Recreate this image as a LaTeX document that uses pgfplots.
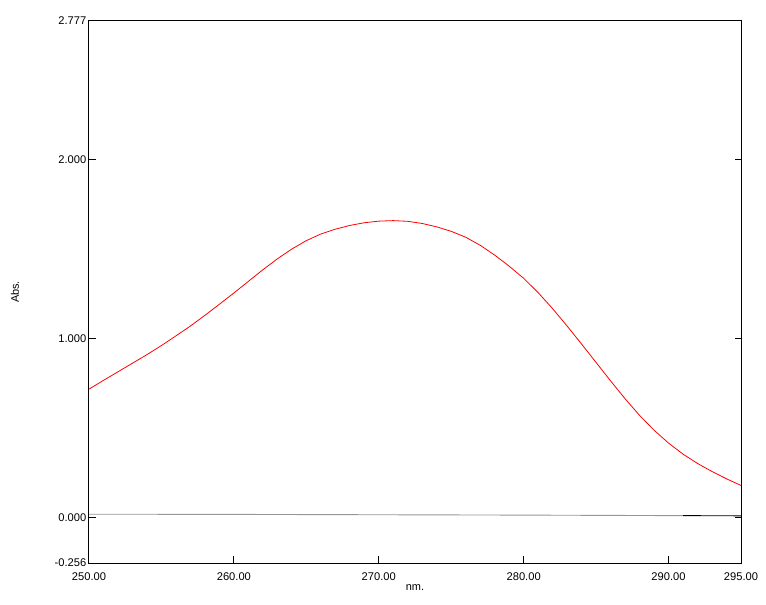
\documentclass[border=0pt]{standalone}
\usepackage{fontspec}
\setmainfont{Liberation Sans}
\usepackage{pgfplots}
\pgfplotsset{compat=1.18}
\begin{document}
\begin{tikzpicture}
\begin{axis}[
  scale only axis,
  width=652bp, height=542bp,
  xmin=250, xmax=295,
  ymin=-0.256, ymax=2.777,
  axis line style={line width=1bp},
  tick style={black, line width=1bp},
  major tick length=6.5bp,
  tick align=inside,
  xtick pos=left,
  ytick pos=both,
  xtick={250,260,270,280,290,295},
  xticklabels={250.00,260.00,270.00,280.00,290.00,295.00},
  ytick={-0.256,0,1,2,2.777},
  yticklabels={-0.256,0.000,1.000,2.000,2.777},
  every tick label/.append style={font=\fontsize{11.2}{13}\selectfont},
  xticklabel style={anchor=north, inner sep=0pt, yshift=-10bp},
  yticklabel style={anchor=east, inner sep=0pt, xshift=-2.5bp},
  xlabel={nm.},
  ylabel={Abs.},
  label style={font=\fontsize{11}{13}\selectfont},
  x label style={at={(axis description cs:0.5,-0.0461)}, anchor=center},
  y label style={at={(axis description cs:-0.1135,0.5)}, anchor=center},
  clip=true,
]
\addplot[color={rgb,255:red,150;green,150;blue,150}, line width=0.9bp] coordinates {
(250,0.017) (260,0.016) (270,0.014) (280,0.012) (291,0.009)
};
\addplot[black, line width=0.9bp] coordinates {
(291,0.009) (295,0.008)
};
\addplot[color={rgb,255:red,255;green,0;blue,0}, line width=0.8bp] coordinates {
(250.0,0.717) (251.0,0.766) (252.0,0.814) (253.0,0.862) (254.0,0.910)
(255.0,0.961) (256.0,1.015) (257.0,1.070) (258.0,1.130) (259.0,1.192)
(260.0,1.255) (261.0,1.320) (262.0,1.385) (263.0,1.446) (264.0,1.501)
(265.0,1.548) (266.0,1.585) (267.0,1.612) (268.0,1.633) (269.0,1.648)
(270.0,1.657) (271.0,1.660) (272.0,1.656) (273.0,1.644) (274.0,1.625)
(275.0,1.600) (276.0,1.567) (277.0,1.522) (278.0,1.467) (279.0,1.405)
(280.0,1.337) (281.0,1.257) (282.0,1.167) (283.0,1.070) (284.0,0.969)
(285.0,0.866) (286.0,0.763) (287.0,0.663) (288.0,0.570) (289.0,0.487)
(290.0,0.415) (291.0,0.353) (292.0,0.301) (293.0,0.256) (294.0,0.215)
(295.0,0.178)
};
\end{axis}
\pgfresetboundingbox
\path[use as bounding box] ([shift={(-89bp,-42bp)}]current axis.south west) rectangle ([shift={(25bp,21bp)}]current axis.north east);
\end{tikzpicture}
\end{document}
